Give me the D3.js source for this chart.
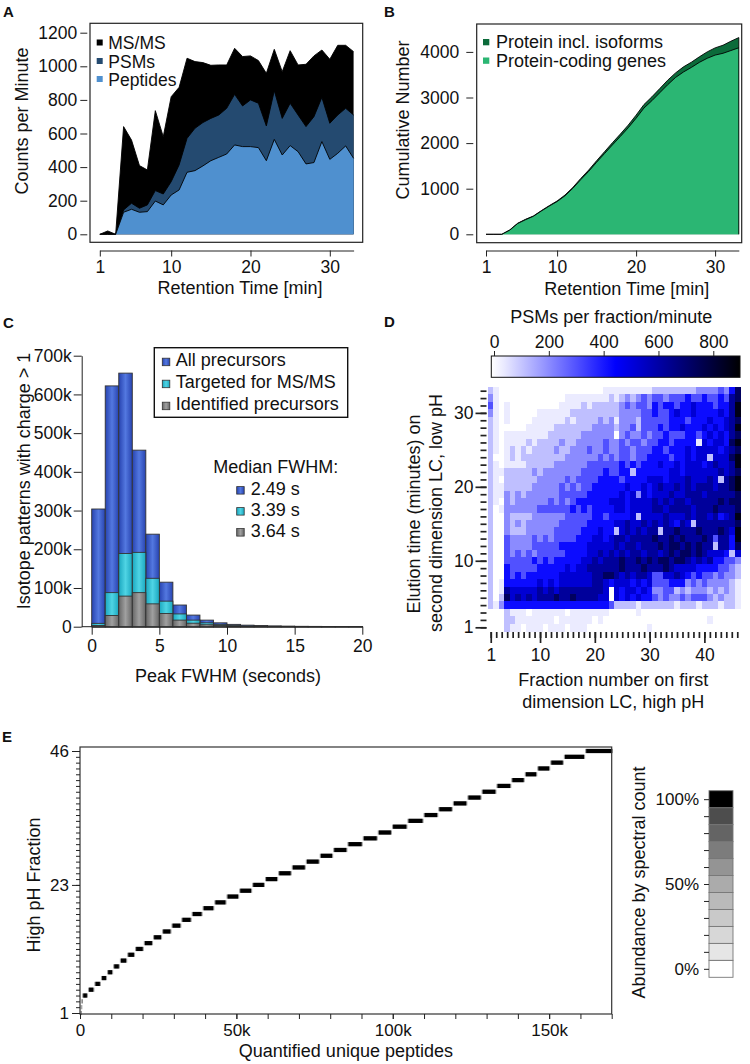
<!DOCTYPE html>
<html><head><meta charset="utf-8">
<script src="https://cdn.jsdelivr.net/npm/d3@7"></script>
<style>
body{margin:0;background:#fff}
svg{font-family:"Liberation Sans",Arial,Helvetica,sans-serif}
</style>
</head><body>
<svg id="c" width="750" height="1064"></svg>
<script>
// ---------- Panel A: counts per minute ----------
const minutes = d3.range(1, 34);
const msmsCounts = [0,20,0,641,561,409,383,736,581,819,875,1048,1028,1022,1006,1008,1008,1107,1058,1062,1034,958,1101,968,1093,1008,1012,1062,1097,1042,1125,1125,1087];
const psmCounts = [0,0,0,145,185,155,175,260,240,313,413,571,631,665,690,710,750,833,764,800,780,645,855,690,780,710,641,700,815,661,710,750,710];
const peptideCounts = [0,0,0,131,149,131,135,198,175,234,264,369,379,407,438,458,478,532,522,522,516,438,565,472,528,492,419,427,552,446,482,526,452];
const aTicksY = [0,200,400,600,800,1000,1200];
const rtTicks = [1,10,20,30];

// ---------- Panel B: cumulative ----------
const isoformCum = [0,0,0,95,241,328,401,518,628,730,861,1029,1226,1409,1613,1810,2007,2197,2394,2613,2847,3015,3197,3380,3540,3672,3774,3891,4000,4088,4146,4234,4314];
const geneCum = [0,0,0,90,235,320,395,510,618,718,845,1010,1200,1380,1580,1770,1960,2145,2335,2545,2770,2930,3105,3280,3440,3560,3660,3770,3860,3930,3970,4030,4090];
const bTicksY = [0,1000,2000,3000,4000];

// ---------- Panel C: FWHM histogram (k) ----------
const fwhmBins = d3.range(0, 20);
const allPrecursors = [304,622,655,456,239,115,56,30,17,10,6,4,3,2,1.5,1,0.8,0.6,0.5,0.4];
const targetedPrec = [8.6,88,189,192,125,66,33,17,10,6,3.5,2,1.5,1,0.7,0.5,0.4,0.3,0.2,0.2];
const identifiedPrec = [3,29,79,88,59,34,17,9,5,3,2,1,0.8,0.5,0.4,0.3,0.2,0.15,0.1,0.1];
const cTicksY = [0,100,200,300,400,500,600,700];
const cTicksX = [0,5,10,15,20];
const medianFWHM = ["2.49 s","3.39 s","3.64 s"];

// ---------- Panel D: PSMs per fraction/minute (level codes, rows 33 -> 1, fractions 1..46) ----------
const psmLevelValues = [0, 35, 110, 200, 300, 420, 520, 620, 730, 860];
const psmRows = [
"2100000000 0000000000 0111111111 2222222233 334358",
"3100000000 0000111111 1121232343 4434445445 445478",
"4101000000 0001111212 2222343443 5455455655 545579",
"3101000001 1111122222 2222333344 5445655655 556579",
"2101000011 1111212222 3231333244 4445554555 655678",
"2100000111 1122222223 3332334244 4545565556 565679",
"2101111111 1222222333 3330343343 4454445545 656578",
"2101111212 2223223333 3433434434 4554555516 566589",
"2101212122 2232233343 3433443444 5545556566 665678",
"2001212222 2222333333 4343443445 5554556566 266689",
"2101111222 2233333344 4444545455 5655656665 676679",
"2112222232 3333333444 4544552555 5556656666 667678",
"2102222223 3333434444 5555455556 6656667666 762789",
"2112222233 3334343445 5555565565 6766767677 767789",
"2113232333 3334444455 5555656365 6667667776 777778",
"2103233333 3434345555 5566656666 7676776777 778788",
"2013333334 4444454545 5556656666 7767777677 787778",
"2003222233 3333444445 5455556266 6676667677 675679",
"2003232333 3334444455 5556676676 7676576277 777778",
"2003222333 3344444555 6552676767 7277877787 778769",
"2004333343 4344445556 6567767777 8778787778 747759",
"2004333344 4445555566 6667677677 7878878787 727758",
"2004343434 4444555566 7676767767 7678788787 666526",
"2004444454 5455555667 6777877878 7887887676 755443",
"2005444445 5555656677 7777877787 7787666655 554432",
"2005454555 5556666667 7887676776 4466765454 434332",
"2015555556 5656666667 7656665656 4445553434 333321",
"2017666667 6767777777 7606566565 3344232333 232321",
"2028676767 7787787777 6606565655 4343343444 323221",
"2135555555 5555555555 5542222122 2222122212 221221",
"0002111011 1111011111 1100000100 0000000000 000000",
"0002211111 1101111110 1000000000 0000000000 100000",
"0002110111 0111011100 0000000001 0000000000 000000"
];
const dCbTicks = [0,200,400,600,800];
const dYMajor = [1,10,20,30];
const dXMajor = [1,10,20,30,40];

// ---------- Panel E: peptides (k) per high-pH fraction 1..46 ----------
const peptidesPerFraction = [0.2,0.2,0.3,1.85,2.05,2.1,1.95,1.95,2.15,2.35,2.5,2.8,2.95,2.9,3.0,3.15,3.3,3.5,3.75,3.9,4.05,4.15,4.1,4.2,4.35,4.5,4.45,4.3,4.55,4.9,4.8,4.55,4.95,5.15,4.7,4.65,4.65,4.55,4.75,4.75,4.3,4.0,4.15,4.35,6.8,8.9];
const eTicksX = [0,50,100,150];
const abundanceSteps = [0,0.1,0.2,0.3,0.4,0.5,0.6,0.7,0.8,0.9,1.0];

// =========================================================
const svg = d3.select('#c');
const TICKF = 17.5, LABF = 18;
const INK = '#222';
const fmtInt = d3.format('d');

function styleAxis(g, fs) {
  g.selectAll('text').attr('font-size', fs || TICKF).attr('fill', '#111').attr('font-family', '"Liberation Sans",Arial,sans-serif');
  g.selectAll('line,path').attr('stroke', INK);
}
function label(x, y, s, opt) {
  opt = opt || {};
  const t = svg.append('text').attr('font-size', opt.size || LABF).attr('fill', '#111')
    .attr('text-anchor', opt.anchor || 'middle').text(s);
  if (opt.rot) t.attr('transform', `translate(${x},${y}) rotate(${opt.rot})`);
  else t.attr('x', x).attr('y', y);
  if (opt.bold) t.attr('font-weight', 'bold');
  return t;
}
function panelLetter(x, y, s) { label(x, y, s, {anchor: 'start', bold: true, size: 15}); }

// ---------------- Panel A ----------------
{
  const x = d3.scaleLinear().domain([1, 33]).range([99.8, 353.6]);
  const y = d3.scaleLinear().domain([0, 1200]).range([234.3, 32.7]);
  const g = svg.append('g');
  const series = [
    {v: msmsCounts, fill: '#000000'},
    {v: psmCounts, fill: '#244a70'},
    {v: peptideCounts, fill: '#4f90cf'}
  ];
  series.forEach(s => {
    const area = d3.area().x((d, i) => x(minutes[i])).y0(y(0)).y1(d => y(d));
    const line = d3.line().x((d, i) => x(minutes[i])).y(d => y(d));
    g.append('path').datum(s.v).attr('d', area).attr('fill', s.fill);
    g.append('path').datum(s.v).attr('d', line).attr('fill', 'none').attr('stroke', '#000').attr('stroke-width', 0.9);
  });
  g.append('rect').attr('x', 90).attr('y', 23.3).attr('width', 272.7).attr('height', 219)
    .attr('fill', 'none').attr('stroke', INK).attr('stroke-width', 1.2);
  const ay = svg.append('g').attr('transform', 'translate(87.3,0)')
    .call(d3.axisLeft(y).tickValues(aTicksY).tickSize(7).tickPadding(3).tickFormat(fmtInt));
  ay.select('.domain').remove(); styleAxis(ay);
  const ax = svg.append('g').attr('transform', 'translate(0,250.5)')
    .call(d3.axisBottom(x).tickValues(rtTicks).tickSize(6).tickSizeOuter(0).tickPadding(4));
  styleAxis(ax);
  const leg = [['MS/MS', '#000000', 49], ['PSMs', '#244a70', 67.5], ['Peptides', '#4f90cf', 85.5]];
  leg.forEach(l => {
    svg.append('rect').attr('x', 96.7).attr('y', l[2] - 9.5).attr('width', 6).attr('height', 6).attr('fill', l[1]);
    label(108.3, l[2], l[0], {anchor: 'start', size: 17.5});
  });
  label(240, 293.5, 'Retention Time [min]');
  label(27.5, 121, 'Counts per Minute', {rot: -90});
  panelLetter(3, 17, 'A');
}

// ---------------- Panel B ----------------
{
  const x = d3.scaleLinear().domain([1, 33]).range([486, 738.8]);
  const y = d3.scaleLinear().domain([0, 4000]).range([234.3, 51.9]);
  const g = svg.append('g');
  [{v: isoformCum, fill: '#0b6b3a'}, {v: geneCum, fill: '#2bb673'}].forEach(s => {
    const area = d3.area().x((d, i) => x(minutes[i])).y0(y(0)).y1(d => y(d));
    const line = d3.line().x((d, i) => x(minutes[i])).y(d => y(d));
    g.append('path').datum(s.v).attr('d', area).attr('fill', s.fill);
    g.append('path').datum(s.v).attr('d', line).attr('fill', 'none').attr('stroke', '#000').attr('stroke-width', 0.9);
  });
  g.append('path').attr('d', `M${x(33)},${y(0)}V${y(isoformCum[32])}`).attr('stroke', '#000').attr('stroke-width', 0.9);
  g.append('rect').attr('x', 476.7).attr('y', 24).attr('width', 265).attr('height', 218.7)
    .attr('fill', 'none').attr('stroke', INK).attr('stroke-width', 1.2);
  const ay = svg.append('g').attr('transform', 'translate(473.3,0)')
    .call(d3.axisLeft(y).tickValues(bTicksY).tickSize(7).tickPadding(7).tickFormat(fmtInt));
  ay.select('.domain').remove(); styleAxis(ay);
  const ax = svg.append('g').attr('transform', 'translate(0,250.5)')
    .call(d3.axisBottom(x).tickValues(rtTicks).tickSize(6).tickSizeOuter(0).tickPadding(4));
  styleAxis(ax);
  const leg = [['Protein incl. isoforms', '#0b6b3a', 48], ['Protein-coding genes', '#2bb673', 66.5]];
  leg.forEach(l => {
    svg.append('rect').attr('x', 483).attr('y', l[2] - 9).attr('width', 6.3).attr('height', 6.3).attr('fill', l[1]);
    label(496, l[2], l[0], {anchor: 'start'});
  });
  label(626.7, 295, 'Retention Time [min]');
  label(409, 120, 'Cumulative Number', {rot: -90});
  panelLetter(384, 17, 'B');
}

// ---------------- Panel C ----------------
{
  const x = d3.scaleLinear().domain([0, 20]).range([91.7, 362.3]);
  const y = d3.scaleLinear().domain([0, 700]).range([626.7, 355.7]);
  const defs = svg.append('defs');
  const grads = [['gAll', '#2743b0', '#5378e0'], ['gTar', '#1aa7bf', '#4fd4e4'], ['gIde', '#666666', '#a0a0a0']];
  grads.forEach(gd => {
    const lg = defs.append('linearGradient').attr('id', gd[0]).attr('x1', 0).attr('x2', 1).attr('y1', 0).attr('y2', 0);
    lg.append('stop').attr('offset', '0%').attr('stop-color', gd[1]);
    lg.append('stop').attr('offset', '50%').attr('stop-color', gd[2]);
    lg.append('stop').attr('offset', '100%').attr('stop-color', gd[1]);
  });
  const g = svg.append('g');
  [[allPrecursors, 'url(#gAll)'], [targetedPrec, 'url(#gTar)'], [identifiedPrec, 'url(#gIde)']].forEach(s => {
    g.selectAll(null).data(s[0]).enter().append('rect')
      .attr('x', (d, i) => x(fwhmBins[i]))
      .attr('width', (d, i) => x(fwhmBins[i] + 1) - x(fwhmBins[i]))
      .attr('y', d => y(d)).attr('height', d => y(0) - y(d))
      .attr('fill', s[1]).attr('stroke', '#333').attr('stroke-width', 0.9);
  });
  const ay = svg.append('g').attr('transform', 'translate(81.7,0)')
    .call(d3.axisLeft(y).tickValues(cTicksY).tickSize(8).tickSizeOuter(0).tickPadding(2)
      .tickFormat(d => d === 0 ? '0' : d + 'k'));
  styleAxis(ay);
  svg.append('line').attr('x1', 81.7).attr('x2', x(0)).attr('y1', y(0)).attr('y2', y(0)).attr('stroke', INK);
  const ax = svg.append('g').attr('transform', `translate(0,${y(0)})`)
    .call(d3.axisBottom(x).tickValues(cTicksX).tickSize(8).tickSizeOuter(0).tickPadding(5));
  styleAxis(ax);
  svg.append('rect').attr('x', 154.3).attr('y', 347.7).attr('width', 193.4).attr('height', 69.6)
    .attr('fill', '#fff').attr('stroke', '#111').attr('stroke-width', 1.4);
  const leg = [['All precursors', 'url(#gAll)', 366.2], ['Targeted for MS/MS', 'url(#gTar)', 388.2], ['Identified precursors', 'url(#gIde)', 410.2]];
  leg.forEach(l => {
    svg.append('rect').attr('x', 162.3).attr('y', l[2] - 8).attr('width', 7.5).attr('height', 7.5)
      .attr('fill', l[1]).attr('stroke', '#333').attr('stroke-width', 0.8);
    label(175.7, l[2], l[0], {anchor: 'start'});
  });
  label(213.3, 473, 'Median FWHM:', {anchor: 'start'});
  medianFWHM.forEach((m, i) => {
    const by = 494.6 + i * 21;
    svg.append('rect').attr('x', 236.7).attr('y', by - 8).attr('width', 7.5).attr('height', 7.5)
      .attr('fill', leg[i][1]).attr('stroke', '#333').attr('stroke-width', 0.8);
    label(250.7, by, m, {anchor: 'start'});
  });
  label(228, 682, 'Peak FWHM (seconds)');
  label(30, 481, 'Isotope patterns with charge > 1', {rot: -90});
  panelLetter(3, 327.5, 'C');
}

// ---------------- Panel D ----------------
{
  const x = d3.scaleLinear().domain([0.5, 46.5]).range([488, 740]);
  const y = d3.scaleLinear().domain([0.5, 33.5]).range([631, 387]);
  const color = d3.scaleLinear().domain([0, 440, 900]).range(['#ffffff', '#0000ff', '#000000']);
  const cells = [];
  psmRows.forEach((r, ri) => {
    const codes = r.replace(/\s/g, '').split('').map(Number);
    const row = 33 - ri;
    codes.forEach((c, ci) => cells.push({row: row, frac: ci + 1, v: psmLevelValues[c]}));
  });
  svg.append('g').attr('shape-rendering', 'crispEdges').selectAll('rect').data(cells).enter().append('rect')
    .attr('x', d => x(d.frac - 0.5)).attr('width', d => x(d.frac + 0.5) - x(d.frac - 0.5) + 0.5)
    .attr('y', d => y(d.row + 0.5)).attr('height', d => y(d.row - 0.5) - y(d.row + 0.5) + 0.5)
    .attr('fill', d => color(d.v));
  const ym = svg.append('g').attr('transform', 'translate(486.5,0)')
    .call(d3.axisLeft(y).tickValues(d3.range(1, 34)).tickSize(6).tickFormat(''));
  ym.select('.domain').remove(); styleAxis(ym); ym.selectAll('line').attr('stroke-width', 1.7);
  const yM = svg.append('g').attr('transform', 'translate(486.5,0)')
    .call(d3.axisLeft(y).tickValues(dYMajor).tickSize(11).tickPadding(2));
  yM.select('.domain').remove(); styleAxis(yM); yM.selectAll('line').attr('stroke-width', 1.7);
  const xm = svg.append('g').attr('transform', 'translate(0,632)')
    .call(d3.axisBottom(x).tickValues(d3.range(1, 47)).tickSize(6).tickFormat(''));
  xm.select('.domain').remove(); styleAxis(xm); xm.selectAll('line').attr('stroke-width', 1.7);
  const xM = svg.append('g').attr('transform', 'translate(0,632)')
    .call(d3.axisBottom(x).tickValues(dXMajor).tickSize(11).tickPadding(6));
  xM.select('.domain').remove(); styleAxis(xM); xM.selectAll('line').attr('stroke-width', 1.7);
  // colorbar
  const cb = d3.scaleLinear().domain([0, 900]).range([494, 740.7]);
  const lg = svg.append('defs').append('linearGradient').attr('id', 'gPsm').attr('x1', 0).attr('x2', 1).attr('y1', 0).attr('y2', 0);
  const cbL = 491.3, cbR = 740;
  d3.range(0, 1.0001, 0.05).forEach(t => {
    const v = cb.invert(cbL + t * (cbR - cbL));
    lg.append('stop').attr('offset', t).attr('stop-color', color(Math.max(0, v)));
  });
  svg.append('rect').attr('x', cbL).attr('y', 356).attr('width', cbR - cbL).attr('height', 21.3)
    .attr('fill', 'url(#gPsm)').attr('stroke', '#111').attr('stroke-width', 1);
  const ca = svg.append('g').attr('transform', 'translate(0,356)')
    .call(d3.axisTop(cb).tickValues(dCbTicks).tickSize(5).tickPadding(3).tickFormat(fmtInt));
  ca.select('.domain').remove(); styleAxis(ca);
  label(611.3, 323, 'PSMs per fraction/minute');
  label(420, 514, 'Elution time (minutes) on', {rot: -90});
  label(442, 513, 'second dimension LC, low pH', {rot: -90});
  label(613.3, 686, 'Fraction number on first');
  label(613.3, 708, 'dimension LC, high pH');
  panelLetter(384, 327, 'D');
}

// ---------------- Panel E ----------------
{
  const x = d3.scaleLinear().domain([0, 170]).range([80, 611.7]);
  const y = d3.scaleLinear().domain([1, 46]).range([1013, 751]);
  const ends = d3.cumsum(peptidesPerFraction);
  const blocks = peptidesPerFraction.map((n, i) => ({frac: i + 1, start: ends[i] - n, end: ends[i]}));
  const g = svg.append('g');
  const bh = (y(1) - y(2)) * 0.72;
  g.selectAll('.fz').data(blocks).enter().append('rect')
    .attr('x', d => x(d.start)).attr('width', d => Math.max(0.6, x(d.end) - x(d.start)))
    .attr('y', d => y(d.frac) - bh / 2).attr('height', bh).attr('fill', '#9a9a9a');
  g.selectAll('.bk').data(blocks).enter().append('rect')
    .attr('x', d => x(d.start) + 1.1).attr('width', d => Math.max(0.4, x(d.end) - x(d.start) - 2.2))
    .attr('y', d => y(d.frac) - bh / 2).attr('height', bh).attr('fill', '#000');
  g.append('rect').attr('x', 80).attr('y', 747).attr('width', 531.7).attr('height', 267)
    .attr('fill', 'none').attr('stroke', '#333').attr('stroke-width', 1.2);
  const ym = svg.append('g').attr('transform', 'translate(80,0)')
    .call(d3.axisLeft(y).tickValues(d3.range(1, 47)).tickSize(4).tickFormat(''));
  ym.select('.domain').remove(); styleAxis(ym);
  const yM = svg.append('g').attr('transform', 'translate(80,0)')
    .call(d3.axisLeft(y).tickValues([1, 23, 46]).tickSize(8).tickPadding(3));
  yM.select('.domain').remove(); styleAxis(yM, 17);
  const xa = svg.append('g').attr('transform', 'translate(0,1014)')
    .call(d3.axisBottom(x).tickValues(d3.range(0, 171, 10)).tickSize(5).tickFormat(''));
  xa.select('.domain').remove(); styleAxis(xa);
  const xl = svg.append('g').attr('transform', 'translate(0,1014)')
    .call(d3.axisBottom(x).tickValues(eTicksX).tickSize(5).tickPadding(5).tickFormat(d => d === 0 ? '0' : d + 'k'));
  xl.select('.domain').remove(); styleAxis(xl, 17);
  label(345.9, 1057, 'Quantified unique peptides');
  label(40, 885, 'High pH Fraction', {rot: -90});
  const cy = d3.scaleLinear().domain([-0.05, 1.05]).range([977.3, 790.7]);
  const grey = d3.scaleLinear().domain([0, 0.1, 0.5, 0.9, 1]).range(['#ffffff', '#e6e6e6', '#ababab', '#4d4d4d', '#000000']);
  svg.append('g').selectAll('rect').data(abundanceSteps).enter().append('rect')
    .attr('x', 709).attr('width', 24)
    .attr('y', d => cy(d + 0.05)).attr('height', d => cy(d - 0.05) - cy(d + 0.05))
    .attr('fill', d => grey(d)).attr('stroke', '#777').attr('stroke-width', 0.9);
  const ca = svg.append('g').attr('transform', 'translate(709,0)')
    .call(d3.axisLeft(cy).tickValues(abundanceSteps).tickSize(5).tickPadding(5)
      .tickFormat(d => (Math.abs(d) < 1e-9 || Math.abs(d - 0.5) < 1e-9 || Math.abs(d - 1) < 1e-9) ? d3.format('.0%')(d) : ''));
  ca.select('.domain').remove(); styleAxis(ca, 17);
  label(645, 882.5, 'Abundance by spectral count', {rot: -90});
  panelLetter(2, 742, 'E');
}
</script>
</body></html>
